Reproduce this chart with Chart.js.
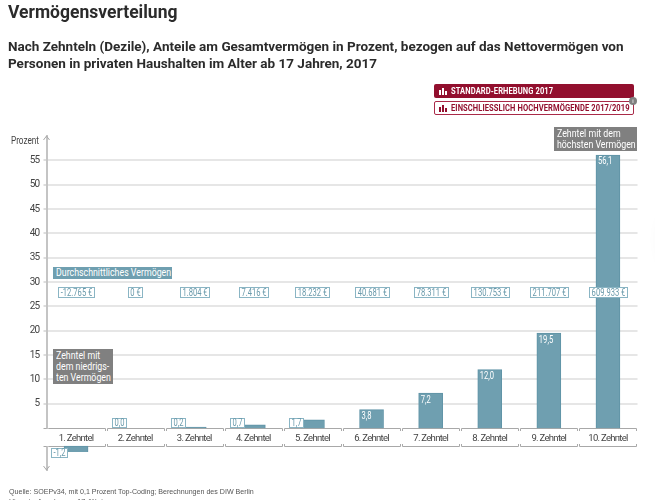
<!DOCTYPE html>
<html lang="de">
<head>
<meta charset="utf-8">
<title>Vermögensverteilung</title>
<script src="https://cdn.jsdelivr.net/npm/chart.js@4"></script>
<style>
  html, body { margin: 0; padding: 0; background: #fff; width: 655px; height: 500px; overflow: hidden; }
  body { position: relative; font-family: Roboto, sans-serif; color: #2b2b2b; }
  #myChart { position: absolute; left: 0; top: 0; }
  h1, h2, p { margin: 0; position: absolute; }
  h1 { left: 8px; top: 0; font-size: 17.5px; line-height: 25px; font-weight: 700; white-space: nowrap; }
  h2 { left: 8px; top: 38px; width: 640px; font-size: 13.5px; line-height: 17px; font-weight: 700; }
  .btn { position: absolute; left: 434px; width: 200px; height: 14px; box-sizing: border-box; border-radius: 2px;
         font-size: 8.6px; font-weight: 700; line-height: 14px; padding-left: 17px; white-space: nowrap; letter-spacing: .1px; }
  .btn.on { top: 84px; background: #920f2e; color: #fff; }
  .btn.off { top: 101px; background: #fff; color: #920f2e; border: 1px solid #a92a48; line-height: 12px; padding-left: 16px; }
  .squeeze { display: inline-block; transform: scaleX(.88); transform-origin: left center; }
  .ico { position: absolute; left: 5px; bottom: 3px; width: 8px; height: 7px; display: flex; align-items: flex-end; gap: 1px; }
  .btn.off .ico { left: 4px; bottom: 2px; }
  .ico i { display: block; width: 2px; background: currentColor; }
  .badge { position: absolute; left: 629px; top: 97px; width: 8px; height: 8px; border-radius: 50%; background: #808080;
           color: #fff; font-size: 6px; line-height: 8px; text-align: center; }
  .note { position: absolute; color: #fff; font-size: 10px; line-height: 11px; padding: 1px 3px; white-space: nowrap; box-sizing: border-box; }
  .note.grey { background: #808080; }
  .note.teal { background: #6f9fb0; line-height: 12px; padding: 0 3px; }
  #source { left: 9px; top: 487px; font: 7.1px/10px "Liberation Sans", Arial, sans-serif; color: #555; white-space: nowrap; }
  #edge { position: absolute; left: 672px; top: 215px; width: 30px; height: 50px; border-radius: 50%; box-shadow: 0 0 18px 6px rgba(0,0,0,.14); }
</style>
</head>
<body>
<canvas id="myChart" width="655" height="500"></canvas>
<h1>Vermögensverteilung</h1>
<h2>Nach Zehnteln (Dezile), Anteile am Gesamtvermögen in Prozent, bezogen auf das Nettovermögen von Personen in privaten Haushalten im Alter ab 17 Jahren, 2017</h2>
<div class="btn on"><span class="ico"><i style="height:5px"></i><i style="height:7px"></i><i style="height:4px"></i></span><span class="squeeze">STANDARD-ERHEBUNG 2017</span></div>
<div class="btn off"><span class="ico"><i style="height:5px"></i><i style="height:7px"></i><i style="height:4px"></i></span><span class="squeeze">EINSCHLIESSLICH HOCHVERMÖGENDE 2017/2019</span></div>
<div class="badge">i</div>
<div class="note grey" style="left:554px;top:127px;width:83px;"><span class="squeeze">Zehntel mit dem<br>höchsten Vermögen</span></div>
<div class="note teal" style="left:53px;top:267px;width:119px;"><span class="squeeze">Durchschnittliches Vermögen</span></div>
<div class="note grey" style="left:53px;top:349px;width:60px;"><span class="squeeze">Zehntel mit<br>dem niedrigs-<br>ten Vermögen</span></div>
<p id="source">Quelle: SOEPv34, mit 0,1 Prozent Top-Coding; Berechnungen des DIW Berlin<br>Hinweis: Angaben zu 17-Jährigen</p>
<div id="edge"></div>

<script>
const categories = ['1. Zehntel', '2. Zehntel', '3. Zehntel', '4. Zehntel', '5. Zehntel',
                    '6. Zehntel', '7. Zehntel', '8. Zehntel', '9. Zehntel', '10. Zehntel'];
const shares = [-1.2, 0.0, 0.2, 0.7, 1.7, 3.8, 7.2, 12.0, 19.5, 56.1];
const shareLabels = ['-1,2', '0,0', '0,2', '0,7', '1,7', '3,8', '7,2', '12,0', '19,5', '56,1'];
const averageWealth = ['-12.765 €', '0 €', '1.804 €', '7.416 €', '18.232 €',
                       '40.681 €', '78.311 €', '130.753 €', '211.707 €', '609.933 €'];
const yTicks = [5, 10, 15, 20, 25, 30, 35, 40, 45, 50, 55];

const BAR = '#6f9fb0';
const BAR_EDGE = '#5f93a6';
const BOX_EDGE = '#8ab5c4';
const BOX_TEXT = '#6a9aab';
const BRACKET = '#a8a8a8';
const AXIS = '#c4c4c4';

// the label band between the brackets pushes negative bars down by this many axis units
const bandUnits = 3.7;
const yMin = -8.6;
const yMax = 60;
// the original uses a condensed face, Roboto squeezed sideways comes closest
const NARROW = 0.76;

function narrowText(ctx, text, x, y, squeeze) {
    ctx.save();
    ctx.translate(x, y);
    ctx.scale(squeeze, 1);
    ctx.fillText(text, 0, 0);
    ctx.restore();
}

function boxedText(ctx, text, cx, y, h, pad) {
    const w = Math.round(ctx.measureText(text).width * NARROW) + pad;
    const x = Math.round(cx - w / 2);
    ctx.fillStyle = '#fff';
    ctx.fillRect(x, y, w, h);
    ctx.strokeStyle = BOX_EDGE;
    ctx.lineWidth = 1;
    ctx.strokeRect(x + 0.5, Math.round(y) + 0.5, w, h);
    ctx.fillStyle = BOX_TEXT;
    ctx.textAlign = 'center';
    ctx.textBaseline = 'middle';
    narrowText(ctx, text, x + w / 2 + 0.5, y + h / 2 + 1, NARROW);
}

const decorations = {
    id: 'decorations',
    beforeDraw(chart) {
        // library tick labels pick this up from the context
        chart.ctx.letterSpacing = '-0.7px';
    },
    // brackets and arrows go under the bars
    beforeDatasetsDraw(chart) {
        const {ctx, chartArea, scales: {x, y, yLow}} = chart;
        const top = Math.round(y.getPixelForValue(0));
        const bottom = Math.round(yLow.getPixelForValue(0));
        const half = (x.getPixelForValue(1) - x.getPixelForValue(0)) / 2;
        ctx.save();
        ctx.letterSpacing = '0px';
        ctx.strokeStyle = BRACKET;
        ctx.lineWidth = 1;
        categories.forEach((c, i) => {
            const l = Math.round(x.getPixelForValue(i) - half + 1) + 0.5;
            const r = Math.round(x.getPixelForValue(i) + half - 1) + 0.5;
            ctx.beginPath();
            ctx.moveTo(l, top + 3); ctx.lineTo(l, top + 0.5); ctx.lineTo(r, top + 0.5); ctx.lineTo(r, top + 3);
            ctx.moveTo(l, bottom - 2); ctx.lineTo(l, bottom + 0.5); ctx.lineTo(r, bottom + 0.5); ctx.lineTo(r, bottom - 2);
            ctx.stroke();
        });
        const ax = chartArea.left;
        // the y axis pauses across the label band
        ctx.fillStyle = '#fff';
        ctx.fillRect(ax - 3, top + 1, 6, bottom - top - 1);
        ctx.strokeStyle = BRACKET;
        ctx.beginPath();
        ctx.moveTo(ax - 3, chartArea.top + 4); ctx.lineTo(ax, chartArea.top); ctx.lineTo(ax + 3, chartArea.top + 4);
        ctx.moveTo(ax - 3, chartArea.bottom - 4); ctx.lineTo(ax, chartArea.bottom); ctx.lineTo(ax + 3, chartArea.bottom - 4);
        ctx.moveTo(ax - 3, top + 0.5); ctx.lineTo(ax, top + 0.5);
        ctx.moveTo(ax - 3, bottom + 0.5); ctx.lineTo(ax, bottom + 0.5);
        ctx.stroke();
        ctx.fillStyle = '#444';
        ctx.font = '10px Roboto';
        ctx.textAlign = 'right';
        ctx.textBaseline = 'middle';
        narrowText(ctx, 'Prozent', 39, chartArea.top + 5, 0.82);
        ctx.restore();
    },
    afterDatasetsDraw(chart) {
        const {ctx, scales: {x, y, yLow}} = chart;
        ctx.save();
        ctx.letterSpacing = '0px';
        ctx.font = '10px Roboto';
        // average wealth row sits just under the 30 gridline
        const rowY = Math.round(y.getPixelForValue(29));
        averageWealth.forEach((t, i) => {
            boxedText(ctx, t, x.getPixelForValue(i), rowY, 10, 4);
        });
        // share labels: inside the bar when tall enough, boxed at its foot otherwise
        shares.forEach((v, i) => {
            const barLeft = x.getPixelForValue(i) - 12;
            const t = shareLabels[i];
            if (v < 0) {
                boxedText(ctx, t, barLeft - 5.5, Math.round(yLow.getPixelForValue(0)) + 2, 9, 4);
            } else if (v < 2) {
                boxedText(ctx, t, barLeft - 4, Math.round(y.getPixelForValue(0)) - 10, 9, 4);
            } else {
                ctx.fillStyle = '#fff';
                ctx.textAlign = 'left';
                ctx.textBaseline = 'top';
                narrowText(ctx, t, barLeft + 2, y.getPixelForValue(v) + 2, NARROW);
            }
        });
        ctx.restore();
    }
};

const barStyle = {
    backgroundColor: BAR,
    borderColor: BAR_EDGE,
    borderWidth: 1,
    barThickness: 24,
    grouped: false
};

new Chart(document.getElementById('myChart'), {
    type: 'bar',
    data: {
        labels: categories,
        datasets: [
            {...barStyle, data: shares.map(v => v >= 0 ? v : null), yAxisID: 'y', borderSkipped: 'bottom'},
            {...barStyle, data: shares.map(v => v < 0 ? v : null), yAxisID: 'yLow', borderSkipped: 'top'}
        ]
    },
    options: {
        responsive: false,
        animation: false,
        layout: {padding: {left: 0, right: 17.5, top: 136, bottom: 30}},
        plugins: {legend: {display: false}, tooltip: {enabled: false}},
        scales: {
            x: {
                position: {y: 0},
                grid: {display: false},
                border: {display: false},
                ticks: {color: '#444', font: {family: 'Roboto', size: 9.5}, padding: -3, maxRotation: 0, autoSkip: false}
            },
            y: {
                min: yMin,
                max: yMax,
                afterBuildTicks: axis => { axis.ticks = yTicks.map(v => ({value: v})); },
                afterFit: axis => { axis.width = 46.5; },
                grid: {color: '#e6e6e6', lineWidth: 2, tickColor: '#bbb', tickWidth: 1, tickLength: 3},
                border: {color: AXIS, width: 2},
                ticks: {color: '#444', font: {family: 'Roboto', size: 10}, padding: 4, callback: v => String(v)}
            },
            yLow: {
                display: false,
                min: yMin + bandUnits,
                max: yMax + bandUnits
            }
        }
    },
    plugins: [decorations]
});
</script>
</body>
</html>
